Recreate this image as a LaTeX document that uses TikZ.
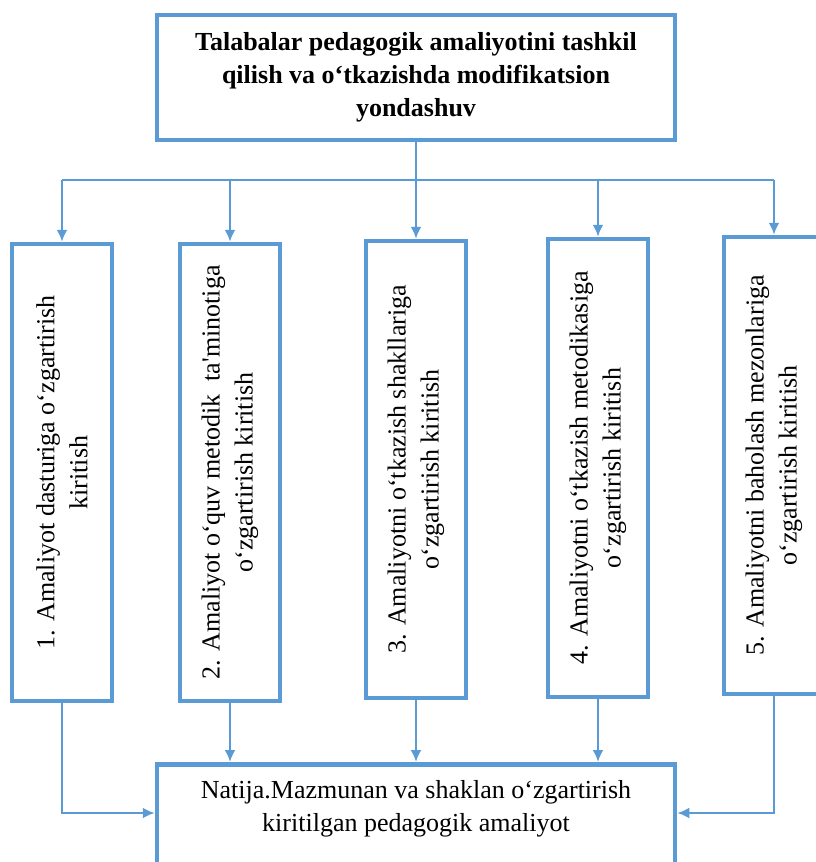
\documentclass[tikz,border=0pt]{standalone}
\usepackage{fontspec}
\setmainfont{Liberation Serif}
\usepackage{xcolor}
\usetikzlibrary{arrows.meta, positioning}
\definecolor{qblue}{RGB}{91,155,213}

\begin{document}
\begin{tikzpicture}[x=1pt, y=-1pt,
  box/.style={draw=qblue, line width=4.5pt, inner sep=0pt, fill=white},
  link/.style={draw=qblue, line width=2.5pt},
  arr/.style={link, -{Latex[length=12pt,width=11pt]}},
  vtext/.style={rotate=90, align=center, inner sep=0pt, font=\fontsize{26}{33}\selectfont}]

\useasboundingbox (0,0) rectangle (815,862);

%top box:
\node[box, minimum width=518pt, minimum height=125pt, align=center,
  font=\bfseries\fontsize{26}{33}\selectfont] (top) at (416,77.5)
  {Talabalar pedagogik amaliyotini tashkil\\ qilish va o‘tkazishda modifikatsion\\ yondashuv};

%bottom box:
\node[box, minimum width=518pt, minimum height=140pt, anchor=north] (res) at (416,762) {};
\node[align=center, anchor=north, inner sep=0pt, font=\fontsize{26}{33}\selectfont]
  (restext) at ([yshift=-18pt]res.north)
  {Natija.Mazmunan va shaklan o‘zgartirish\\ kiritilgan pedagogik amaliyot};

%branch bar:
\coordinate (split) at (416,180);
\draw[link] (top.south) -- (split);
\coordinate (barL) at (62,180);
\coordinate (barR) at (774,180);
\draw[link] (barL) -- (barR);

%five boxes:
\foreach \i/\x/\t/\b in {1/62/244/701, 2/230/244/701, 3/416/241/698, 4/598/239/697, 5/774/237/694}{
  \pgfmathsetmacro{\hgt}{\b-\t}
  \pgfmathsetmacro{\mid}{(\t+\b)/2}
  \node[box, minimum width=100pt, minimum height=\hgt pt] (b\i) at (\x,\mid) {};
  \coordinate (d\i) at (\x,180);
  \draw[arr] (d\i) -- (b\i.north);
}

\node[vtext] (t1) at (b1.center) {1. Amaliyot dasturiga o‘zgartirish\\ kiritish};
\node[vtext] (t2) at (b2.center) {2. Amaliyot o‘quv metodik\ \ ta\textquotesingle minotiga\\ o‘zgartirish kiritish};
\node[vtext] (t3) at (b3.center) {3. Amaliyotni o‘tkazish shakllariga\\ o‘zgartirish kiritish};
\node[vtext] (t4) at (b4.center) {4. Amaliyotni o‘tkazish metodikasiga\\ o‘zgartirish kiritish};
\node[vtext] (t5) at (b5.center) {5. Amaliyotni baholash mezonlariga\\ o‘zgartirish kiritish};

%into result:
\foreach \i in {2,3,4}{
  \draw[arr] (b\i.south) -- (b\i.south |- res.north);
}
\coordinate (inL) at (62,813);
\coordinate (inR) at (774,813);
\draw[arr] (b1.south) -- (inL) -- (inL -| res.west);
\draw[arr] (b5.south) -- (inR) -- (inR -| res.east);

\end{tikzpicture}
\end{document}
